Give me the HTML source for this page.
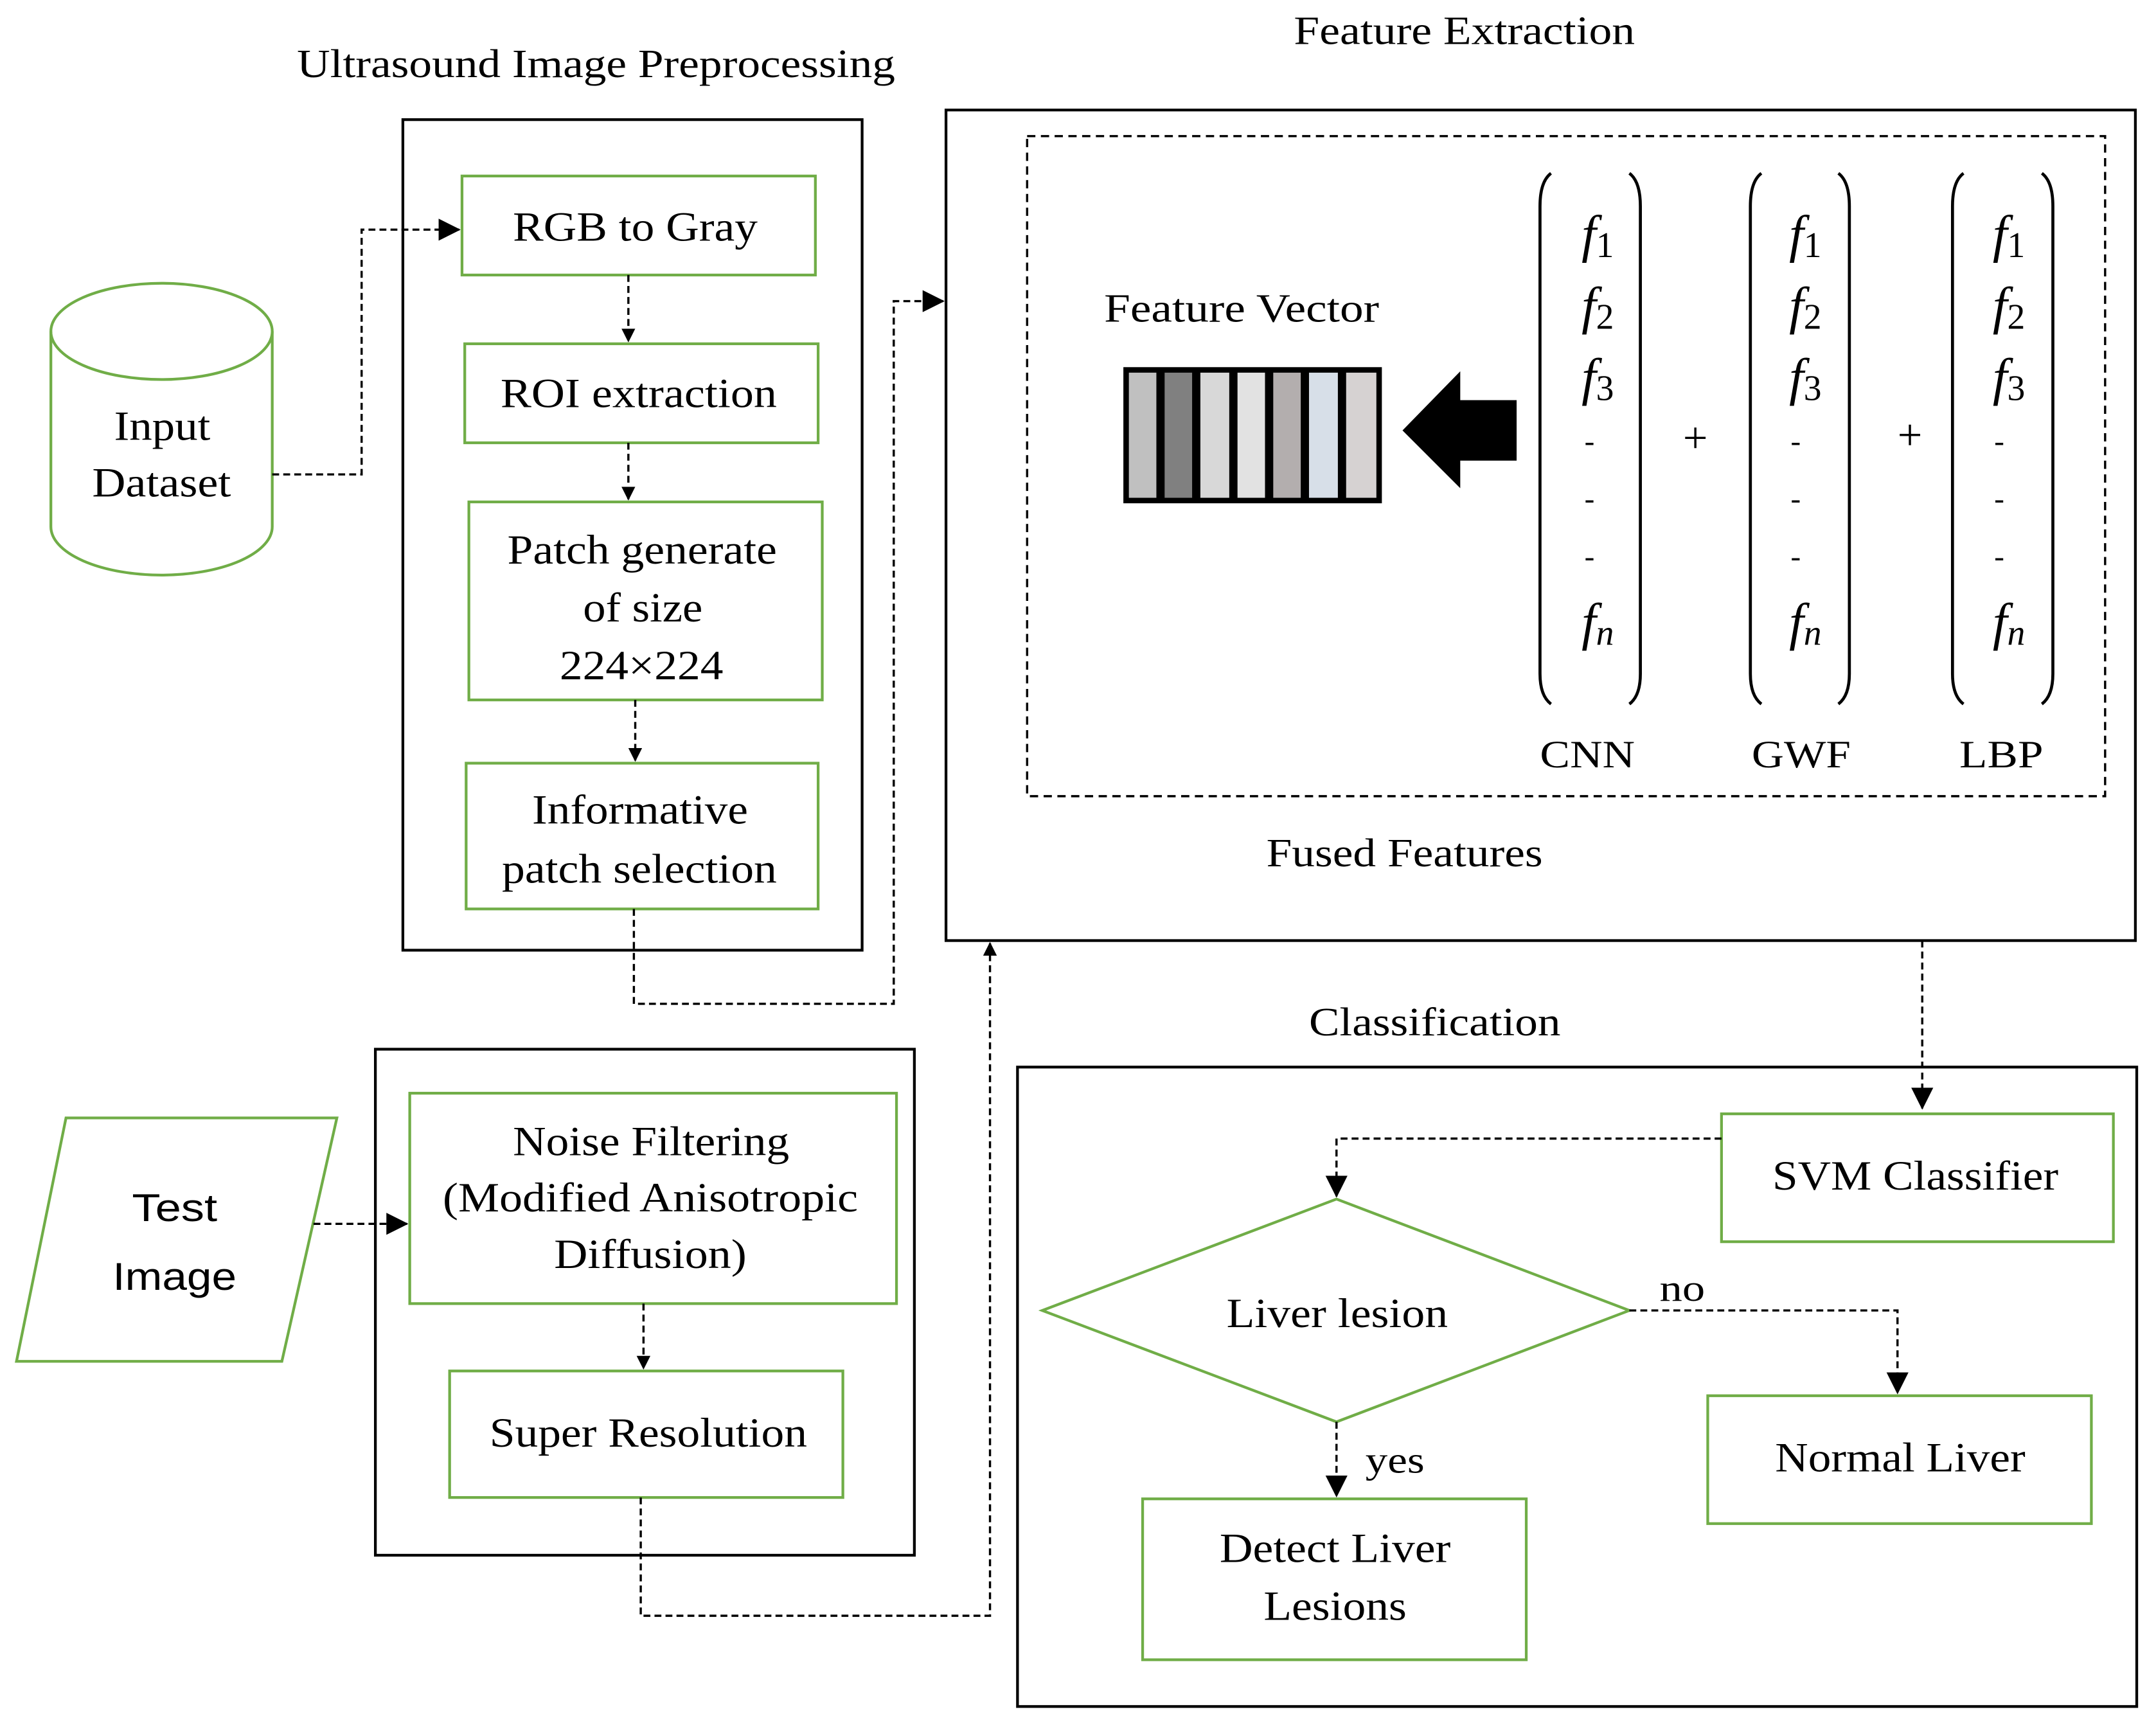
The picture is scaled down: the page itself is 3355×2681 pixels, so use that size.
<!DOCTYPE html>
<html><head><meta charset="utf-8"><style>html,body{margin:0;padding:0;background:#fff}svg{display:block}</style></head><body>
<svg width="3355" height="2681" viewBox="0 0 1568 1253" preserveAspectRatio="none" xmlns="http://www.w3.org/2000/svg" font-family="Liberation Serif, serif" font-size="30" fill="#000">
<defs><marker id="a" markerWidth="10" markerHeight="10" refX="9" refY="5" orient="auto" markerUnits="userSpaceOnUse"><path d="M0,0 L10,5 L0,10 z" fill="#000"/></marker>
<marker id="b" markerWidth="16" markerHeight="16" refX="15" refY="8" orient="auto" markerUnits="userSpaceOnUse"><path d="M0,0 L16,8 L0,16 z" fill="#000"/></marker></defs>
<rect width="1568" height="1253" fill="#fff"/>
<g fill="none" stroke="#000" stroke-width="2">
<rect x="293" y="87" width="334" height="604"/>
<rect x="688" y="80" width="865" height="604"/>
<rect x="273" y="763" width="392" height="368"/>
<rect x="740" y="776" width="814" height="465"/>
<rect x="747" y="99" width="784" height="480" stroke-dasharray="6,4" stroke-width="1.6"/>
</g>
<g fill="none" stroke="#70ad47" stroke-width="2">
<rect x="336" y="128" width="257" height="72"/>
<rect x="338" y="250" width="257" height="72"/>
<rect x="341" y="365" width="257" height="144"/>
<rect x="339" y="555" width="256" height="106"/>
<rect x="298" y="795" width="354" height="153"/>
<rect x="327" y="997" width="286" height="92"/>
<rect x="1252" y="810" width="285" height="93"/>
<rect x="1242" y="1015" width="279" height="93"/>
<rect x="831" y="1090" width="279" height="117"/>
<polygon points="758,953 972,872 1185,953 972,1034"/>
<polygon points="48,813 245,813 205,990 12,990"/>
<path d="M37,241 L37,383 A80,35 0 0 0 198,383 L198,241"/>
<ellipse cx="117.5" cy="241" rx="80.5" ry="35"/>
</g>
<g fill="none" stroke="#000" stroke-width="1.6" stroke-dasharray="5,3">
<path d="M198,345 H263 V167 H334" marker-end="url(#b)"/>
<path d="M457,200 V248" marker-end="url(#a)"/>
<path d="M457,322 V363" marker-end="url(#a)"/>
<path d="M462,509 V553" marker-end="url(#a)"/>
<path d="M461,661 V730 H650 V219 H686" marker-end="url(#b)"/>
<path d="M228,890 H296" marker-end="url(#b)"/>
<path d="M468,948 V995" marker-end="url(#a)"/>
<path d="M466,1089 V1175 H720 V686" marker-end="url(#a)"/>
<path d="M1398,684 V806" marker-end="url(#b)"/>
<path d="M1252,828 H972 V870" marker-end="url(#b)"/>
<path d="M1185,953 H1380 V1013" marker-end="url(#b)"/>
<path d="M972,1034 V1088" marker-end="url(#b)"/>
</g>
<g lengthAdjust="spacingAndGlyphs">
<text x="216" y="56" font-size="29" textLength="435" lengthAdjust="spacingAndGlyphs">Ultrasound Image Preprocessing</text>
<text x="941" y="32" font-size="29" textLength="248" lengthAdjust="spacingAndGlyphs">Feature Extraction</text>
<text x="952" y="753" font-size="29" textLength="183" lengthAdjust="spacingAndGlyphs">Classification</text>
<text x="921" y="630" font-size="29" textLength="201" lengthAdjust="spacingAndGlyphs">Fused Features</text>
<text x="803" y="234" font-size="29" textLength="200" lengthAdjust="spacingAndGlyphs">Feature Vector</text>
<text x="373" y="175" textLength="178" lengthAdjust="spacingAndGlyphs">RGB to Gray</text>
<text x="364" y="296" textLength="201" lengthAdjust="spacingAndGlyphs">ROI extraction</text>
<text x="369" y="410" textLength="196" lengthAdjust="spacingAndGlyphs">Patch generate</text>
<text x="424" y="452" textLength="87" lengthAdjust="spacingAndGlyphs">of size</text>
<text x="407" y="494" textLength="119" lengthAdjust="spacingAndGlyphs">224×224</text>
<text x="387" y="599" textLength="157" lengthAdjust="spacingAndGlyphs">Informative</text>
<text x="365" y="642" textLength="200" lengthAdjust="spacingAndGlyphs">patch selection</text>
<text x="83" y="320" textLength="70" lengthAdjust="spacingAndGlyphs">Input</text>
<text x="67" y="361" textLength="101" lengthAdjust="spacingAndGlyphs">Dataset</text>
<text x="96" y="888" font-family="Liberation Sans, sans-serif" font-size="28" textLength="62" lengthAdjust="spacingAndGlyphs">Test</text>
<text x="82" y="938" font-family="Liberation Sans, sans-serif" font-size="28" textLength="90" lengthAdjust="spacingAndGlyphs">Image</text>
<text x="373" y="840" textLength="201" lengthAdjust="spacingAndGlyphs">Noise Filtering</text>
<text x="322" y="881" textLength="302" lengthAdjust="spacingAndGlyphs">(Modified Anisotropic</text>
<text x="403" y="922" textLength="140" lengthAdjust="spacingAndGlyphs">Diffusion)</text>
<text x="356" y="1052" textLength="231" lengthAdjust="spacingAndGlyphs">Super Resolution</text>
<text x="1289" y="865" textLength="208" lengthAdjust="spacingAndGlyphs">SVM Classifier</text>
<text x="892" y="965" textLength="161" lengthAdjust="spacingAndGlyphs">Liver lesion</text>
<text x="1291" y="1070" textLength="182" lengthAdjust="spacingAndGlyphs">Normal Liver</text>
<text x="887" y="1136" textLength="168" lengthAdjust="spacingAndGlyphs">Detect Liver</text>
<text x="919" y="1178" textLength="104" lengthAdjust="spacingAndGlyphs">Lesions</text>
<text x="1207" y="946" font-size="27" textLength="33" lengthAdjust="spacingAndGlyphs">no</text>
<text x="993" y="1071" font-size="27" textLength="43" lengthAdjust="spacingAndGlyphs">yes</text>
<text x="1120" y="558" font-size="28" textLength="69" lengthAdjust="spacingAndGlyphs">CNN</text>
<text x="1274" y="558" font-size="28" textLength="72" lengthAdjust="spacingAndGlyphs">GWF</text>
<text x="1425" y="558" font-size="28" textLength="61" lengthAdjust="spacingAndGlyphs">LBP</text>
</g>
<g text-anchor="middle">
<text x="1233" y="329" font-size="32">+</text>
<text x="1389" y="327" font-size="32">+</text>
</g>
<g stroke="#000" stroke-width="2">
<rect x="818" y="268" width="186" height="97" fill="#000"/>
<rect x="821" y="271" width="20" height="91" fill="#c0c0c0" stroke="none"/>
<rect x="847" y="271" width="20" height="91" fill="#808080" stroke="none"/>
<rect x="873" y="271" width="21" height="91" fill="#d8d8d8" stroke="none"/>
<rect x="900" y="271" width="20" height="91" fill="#e2e2e2" stroke="none"/>
<rect x="926" y="271" width="20" height="91" fill="#b3aeae" stroke="none"/>
<rect x="952" y="271" width="21" height="91" fill="#d7dfe8" stroke="none"/>
<rect x="979" y="271" width="22" height="91" fill="#d6d2d2" stroke="none"/>
</g>
<polygon points="1020,313 1062,270 1062,291 1103,291 1103,335 1062,335 1062,355" fill="#000"/>
<g fill="none" stroke="#000" stroke-width="2.2">
<path d="M1128,126 Q1120,132 1120,150 V490 Q1120,506 1128,512"/>
<path d="M1185,126 Q1193,132 1193,150 V490 Q1193,506 1185,512"/>
<path d="M1281,126 Q1273,132 1273,150 V490 Q1273,506 1281,512"/>
<path d="M1337,126 Q1345,132 1345,150 V490 Q1345,506 1337,512"/>
<path d="M1428,126 Q1420,132 1420,150 V490 Q1420,506 1428,512"/>
<path d="M1485,126 Q1493,132 1493,150 V490 Q1493,506 1485,512"/>
</g>
<g font-size="38" text-anchor="middle">
<g font-style="italic">
<text x="1162" y="183">f<tspan font-style="normal" font-size="26" dy="4">1</tspan></text>
<text x="1162" y="235">f<tspan font-style="normal" font-size="26" dy="4">2</tspan></text>
<text x="1162" y="287">f<tspan font-style="normal" font-size="26" dy="4">3</tspan></text>
<text x="1162" y="465">f<tspan font-size="26" dy="4">n</tspan></text>
<text x="1313" y="183">f<tspan font-style="normal" font-size="26" dy="4">1</tspan></text>
<text x="1313" y="235">f<tspan font-style="normal" font-size="26" dy="4">2</tspan></text>
<text x="1313" y="287">f<tspan font-style="normal" font-size="26" dy="4">3</tspan></text>
<text x="1313" y="465">f<tspan font-size="26" dy="4">n</tspan></text>
<text x="1461" y="183">f<tspan font-style="normal" font-size="26" dy="4">1</tspan></text>
<text x="1461" y="235">f<tspan font-style="normal" font-size="26" dy="4">2</tspan></text>
<text x="1461" y="287">f<tspan font-style="normal" font-size="26" dy="4">3</tspan></text>
<text x="1461" y="465">f<tspan font-size="26" dy="4">n</tspan></text>
</g>
<g font-size="22">
<text x="1156" y="328">-</text><text x="1156" y="370">-</text><text x="1156" y="412">-</text>
<text x="1306" y="328">-</text><text x="1306" y="370">-</text><text x="1306" y="412">-</text>
<text x="1454" y="328">-</text><text x="1454" y="370">-</text><text x="1454" y="412">-</text>
</g>
</g>
</svg>
</body></html>
